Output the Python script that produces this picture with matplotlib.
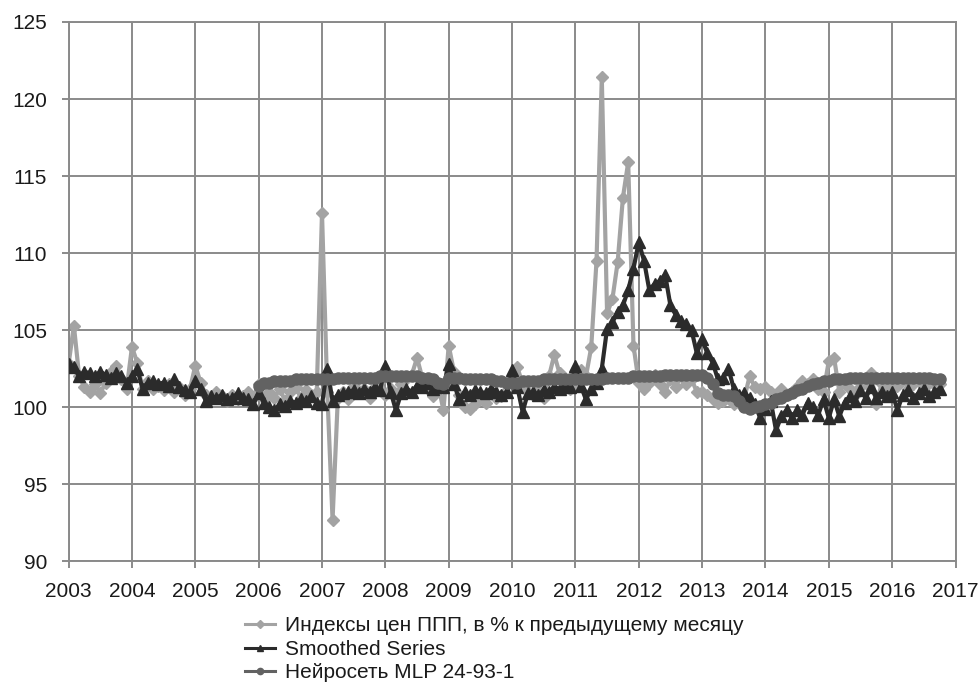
import numpy as np
import matplotlib.pyplot as plt
from matplotlib.lines import Line2D

plt.rcParams['font.family'] = ['Liberation Sans', 'DejaVu Sans']

# monthly values, Jan 2003 - Oct 2016
ppi = [
    102.8, 105.3, 102.0, 101.3, 101.0, 101.5, 100.9, 101.6, 102.3, 102.7, 101.8, 101.2,  # 2003
    103.9, 102.9, 101.2, 101.7, 101.2, 101.4, 101.1, 101.5, 101.0, 101.3, 100.8, 101.2,  # 2004
    102.7, 101.6, 100.8, 100.5, 101.0, 100.7, 100.4, 100.8, 100.5, 100.7, 101.0, 100.6,  # 2005
    101.5, 100.5, 101.0, 100.6, 101.2, 100.4, 101.0, 101.3, 100.6, 101.1, 100.8, 101.0,  # 2006
    112.6, 101.0, 92.7, 100.6, 101.0, 100.5, 101.4, 100.9, 101.2, 100.6, 101.3, 101.7,   # 2007
    100.8, 101.2, 100.7, 101.5, 101.8, 102.1, 103.2, 101.9, 101.2, 100.7, 101.5, 99.8,   # 2008
    104.0, 102.3, 100.8, 100.0, 99.9, 100.2, 100.5, 100.3, 101.0, 100.6, 100.7, 101.5,   # 2009
    101.8, 102.6, 101.5, 101.0, 100.8, 101.2, 100.6, 102.0, 103.4, 102.2, 101.7, 101.2,  # 2010
    101.4, 102.4, 102.0, 103.9, 109.5, 121.4, 106.1, 107.0, 109.4, 113.6, 115.9, 104.0,  # 2011
    101.6, 101.2, 101.6, 102.1, 101.5, 101.0, 101.8, 101.3, 102.0, 101.5, 101.8, 101.0,  # 2012
    101.0, 100.8, 100.5, 100.3, 100.4, 100.6, 100.2, 100.3, 100.6, 102.0, 101.3, 101.2,  # 2013
    101.3, 101.0, 100.8, 101.2, 100.8, 101.0, 101.3, 101.7, 101.5, 101.8, 101.2, 101.0,  # 2014
    103.0, 103.2, 101.0, 101.5, 101.2, 100.8, 101.3, 101.6, 102.2, 100.2, 101.5, 101.3,  # 2015
    101.6, 101.4, 101.8, 101.2, 101.5, 101.7, 101.4, 101.6, 101.5, 101.5,                # 2016
]

smoothed = [
    102.8, 102.6, 102.0, 102.3, 102.2, 102.0, 102.3, 102.1, 101.9, 102.2, 102.0, 101.6,  # 2003
    102.0, 102.5, 101.2, 101.6, 101.7, 101.5, 101.6, 101.4, 101.8, 101.3, 101.1, 101.0,  # 2004
    101.7, 101.2, 100.4, 100.7, 100.6, 100.8, 100.5, 100.6, 100.9, 100.6, 100.5, 100.2,  # 2005
    100.9, 100.3, 100.0, 99.8, 100.2, 100.1, 100.4, 100.3, 100.5, 100.4, 100.7, 100.3,   # 2006
    100.2, 102.5, 100.4, 100.8, 100.9, 101.0, 101.1, 100.9, 101.2, 101.0, 101.3, 101.1,  # 2007
    102.7, 101.0, 99.8, 100.9, 101.2, 101.0, 101.4, 101.3, 101.6, 101.2, 101.5, 101.3,   # 2008
    102.8, 101.5, 100.5, 101.0, 100.8, 101.1, 101.0, 100.9, 101.2, 101.0, 100.8, 101.0,  # 2009
    102.4, 101.3, 99.7, 100.9, 101.0, 100.8, 101.1, 101.0, 101.3, 101.2, 101.4, 101.3,   # 2010
    102.7, 101.4, 100.5, 101.2, 101.6, 102.5, 105.1, 105.5, 106.2, 106.6, 107.6, 109.0,  # 2011
    110.7, 109.5, 107.6, 108.0, 108.2, 108.6, 106.6, 106.0, 105.6, 105.4, 105.0, 103.5,  # 2012
    104.4, 103.5, 102.9, 101.8, 101.9, 102.5, 101.2, 100.8, 100.9, 100.6, 100.2, 99.3,   # 2013
    99.9, 100.4, 98.5, 99.4, 99.8, 99.3, 99.8, 99.5, 100.3, 100.0, 99.5, 100.5,          # 2014
    99.3, 100.5, 99.4, 100.3, 100.7, 100.4, 101.1, 100.6, 101.3, 100.6, 101.0, 100.7,    # 2015
    101.0, 99.8, 100.8, 101.1, 100.6, 100.9, 101.2, 100.7, 101.0, 101.2,                 # 2016
]

# neural network output, Jan 2006 - Oct 2016
mlp = [
    101.4, 101.6, 101.6, 101.7, 101.7, 101.7, 101.7, 101.8, 101.8, 101.8, 101.8, 101.8,  # 2006
    101.8, 101.8, 101.8, 101.9, 101.9, 101.9, 101.9, 101.9, 101.9, 101.9, 101.9, 102.0,  # 2007
    102.0, 102.0, 102.0, 102.0, 102.0, 102.0, 102.0, 101.9, 101.9, 101.8, 101.6, 101.5,  # 2008
    101.9, 101.9, 101.9, 101.8, 101.8, 101.8, 101.8, 101.8, 101.8, 101.7, 101.7, 101.6,  # 2009
    101.6, 101.6, 101.7, 101.7, 101.7, 101.7, 101.8, 101.8, 101.8, 101.8, 101.8, 101.8,  # 2010
    101.8, 101.8, 101.8, 101.8, 101.8, 101.8, 101.9, 101.9, 101.9, 101.9, 101.9, 102.0,  # 2011
    102.0, 102.0, 102.0, 102.0, 102.0, 102.1, 102.1, 102.1, 102.1, 102.1, 102.1, 102.1,  # 2012
    102.1, 101.9, 101.5, 100.9, 100.8, 100.8, 100.7, 100.4, 100.0, 99.9, 100.0, 100.1,   # 2013
    100.2, 100.3, 100.5, 100.6, 100.8, 100.9, 101.1, 101.2, 101.4, 101.5, 101.6, 101.7,  # 2014
    101.7, 101.8, 101.8, 101.8, 101.9, 101.9, 101.9, 101.9, 101.9, 101.9, 101.9, 101.9,  # 2015
    101.9, 101.9, 101.9, 101.9, 101.9, 101.9, 101.9, 101.9, 101.8, 101.8,                # 2016
]

labels = ['Индексы цен ППП, в % к предыдущему месяцу',
          'Smoothed Series',
          'Нейросеть MLP 24-93-1']
colors = ['#a3a3a3', '#2b2b2b', '#626262']
markers = ['D', '^', 'o']

t_main = 2003 + np.arange(len(ppi)) / 12
t_mlp = 2006 + np.arange(len(mlp)) / 12

fig = plt.figure(figsize=(9.8, 6.87), dpi=100)
ax = fig.add_axes([0.07, 0.183, 0.905, 0.785])

ax.plot(t_main, ppi, color=colors[0], lw=3, marker=markers[0], ms=6.5, zorder=2)
ax.plot(t_main, smoothed, color=colors[1], lw=3, marker=markers[1], ms=8.5, zorder=3)
ax.plot(t_mlp, mlp, color=colors[2], lw=3, marker=markers[2], ms=8, zorder=4)

ax.set_xlim(2003, 2017)
ax.set_ylim(90, 125)
ax.set_xticks(range(2003, 2018))
ax.set_yticks(range(90, 126, 5))
ax.grid(True, color='#8a8a8a', lw=1.4)
ax.set_axisbelow(True)
for s in ax.spines.values():
    s.set_color('#8a8a8a')
    s.set_linewidth(1.4)
ax.tick_params(length=5, width=1.4, color='#8a8a8a', labelsize=15, labelcolor='#1a1a1a')
ax.tick_params(axis='x', pad=10)
ax.tick_params(axis='y', pad=10.5)

handles = [Line2D([], [], color=c, lw=2.2, marker=m, ms=4.5) for c, m in zip(colors, markers)]
fig.legend(handles, labels, loc='upper left', bbox_to_anchor=(0.25, 0.103), frameon=False,
           fontsize=15, handlelength=1.45, handletextpad=0.45, labelspacing=0.22,
           borderpad=0, borderaxespad=0, labelcolor='#1a1a1a')

fig.savefig('out.png', dpi=100)
